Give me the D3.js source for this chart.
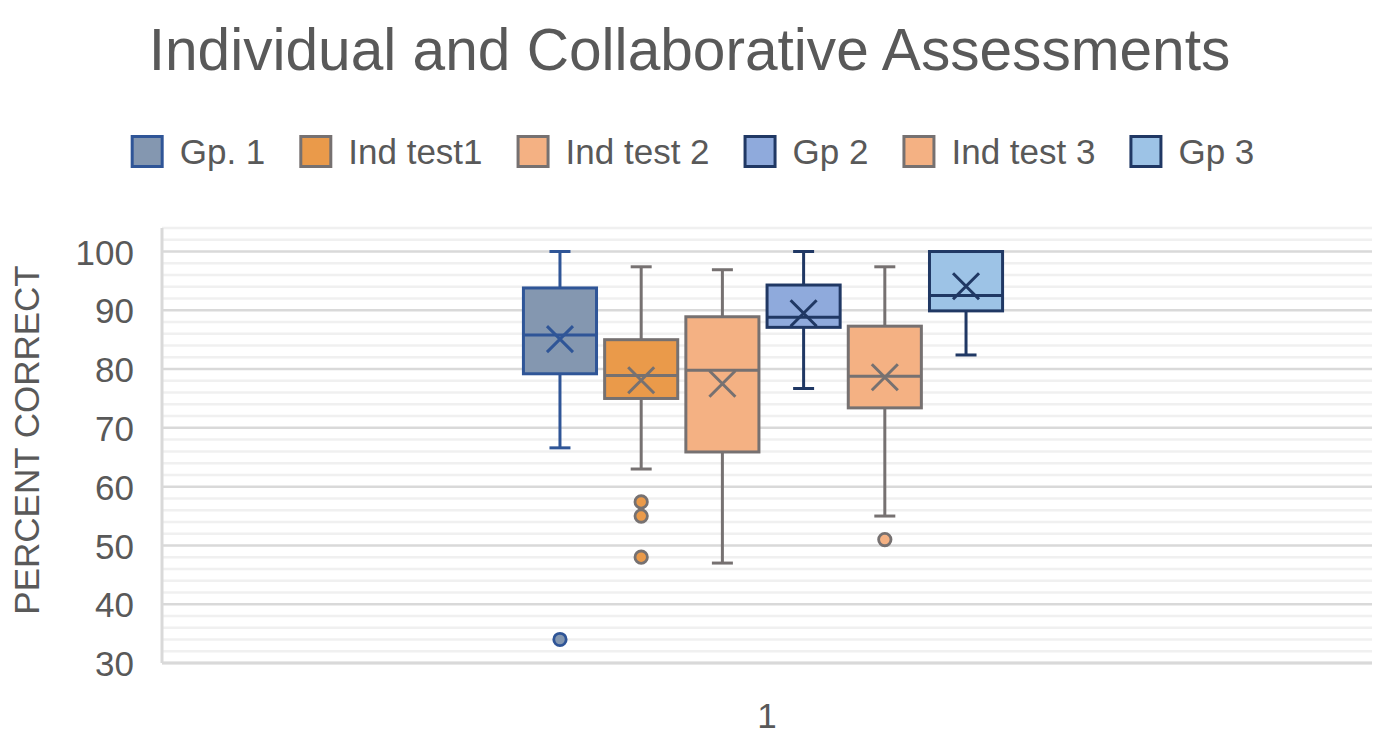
<!DOCTYPE html>
<html><head><meta charset="utf-8">
<script src="https://cdn.jsdelivr.net/npm/d3@7"></script>
<style>
html,body{margin:0;padding:0;background:#fff;}
svg{display:block;font-family:"Liberation Sans",Arial,Helvetica,sans-serif;}
</style></head>
<body>
<svg id="chart" width="1379" height="734"></svg>
<script>
// ---- data ----
const categories = ["1"];
const series = ["Gp. 1","Ind test1","Ind test 2","Gp 2","Ind test 3","Gp 3"];
const whiskerLow  = [66.6, 63.0, 47.0, 76.7, 55.0, 82.4];
const q1          = [79.2, 75.0, 65.9, 87.1, 73.4, 89.9];
const median      = [85.8, 78.9, 79.8, 88.8, 78.8, 92.5];
const q3          = [93.8, 85.0, 88.9, 94.3, 87.3, 100.0];
const whiskerHigh = [100.0, 97.4, 96.9, 100.0, 97.4, 100.0];
const mean        = [85.1, 78.1, 77.5, 89.5, 78.6, 94.1];
const outliers    = [[34.0],[57.4,55.0,48.0],[],[],[51.0],[]];
const yTicks = [30,40,50,60,70,80,90,100];
const yMinorTicks = [32,34,36,38,42,44,46,48,52,54,56,58,62,64,66,68,72,74,76,78,82,84,86,88,92,94,96,98,102,104];

// ---- styles ----
const fills   = ["#8497B0","#EA9A4A","#F4B183","#8FAADC","#F4B183","#9DC3E6"];
const strokes = ["#2F5597","#767171","#767171","#203864","#767171","#203864"];
const textColor = "#595959";

const svg = d3.select("#chart");
const W = 1379, H = 734;
const plot = {left:162, right:1372, top:228, bottom:663};

const y = d3.scaleLinear().domain([30,104]).range([plot.bottom, plot.top]);
const x0 = d3.scaleBand().domain(categories).range([plot.left, plot.right]);
const catCenter = x0(categories[0]) + x0.bandwidth()/2 - 4;
const groupW = x0.bandwidth()*0.4027;
const x1 = d3.scaleBand().domain(series).range([catCenter-groupW/2, catCenter+groupW/2]).paddingInner(0.1).paddingOuter(0.05);

// title
const title = svg.append("text").attr("x", W/2).attr("y", 70).attr("text-anchor","middle")
  .attr("fill", textColor).attr("font-size", 56).text("Individual and Collaborative Assessments");
const tw = title.node().getComputedTextLength();
title.attr("font-size", 56*1082/tw);

// gridlines
svg.append("g").selectAll("line").data(yMinorTicks).join("line")
  .attr("x1", plot.left).attr("x2", plot.right)
  .attr("y1", d=>y(d)).attr("y2", d=>y(d))
  .attr("stroke","#F0F0F0").attr("stroke-width",2.5);
svg.append("g").selectAll("line").data(yTicks).join("line")
  .attr("x1", plot.left).attr("x2", plot.right)
  .attr("y1", d=>y(d)).attr("y2", d=>y(d))
  .attr("stroke","#D9D9D9").attr("stroke-width",2.5);
// axis lines
svg.append("line").attr("x1",plot.left).attr("x2",plot.left).attr("y1",plot.top).attr("y2",plot.bottom)
  .attr("stroke","#D9D9D9").attr("stroke-width",3);
svg.append("line").attr("x1",plot.left).attr("x2",plot.right).attr("y1",plot.bottom).attr("y2",plot.bottom)
  .attr("stroke","#D9D9D9").attr("stroke-width",3);

// y axis labels
const yAxis = svg.append("g").attr("transform",`translate(${plot.left-28},0)`)
  .call(d3.axisLeft(y).tickValues(yTicks).tickSize(0).tickPadding(0));
yAxis.select(".domain").remove();
yAxis.selectAll("text").attr("font-size",35).attr("fill",textColor)
  .attr("font-family","'Liberation Sans',Arial,sans-serif").attr("dy","0.36em");

// x axis label
const xAxis = svg.append("g").attr("transform",`translate(0,${plot.bottom})`)
  .call(d3.axisBottom(x0).tickSize(0).tickPadding(0));
xAxis.select(".domain").remove();
xAxis.selectAll("text").attr("font-size",35).attr("fill",textColor)
  .attr("font-family","'Liberation Sans',Arial,sans-serif").attr("dy",0).attr("y",64.5);

// y axis title
svg.append("text").attr("transform","translate(39,440) rotate(-90)").attr("text-anchor","middle")
  .attr("font-size",35).attr("fill",textColor).text("PERCENT CORRECT");

// boxes
const bw = x1.bandwidth();
const capW = 21;
const sw = 3;
const g = svg.append("g");
series.forEach((s,i)=>{
  const cx = x1(s) + bw/2;
  const c = strokes[i];
  const gg = g.append("g");
  // whiskers
  gg.append("line").attr("x1",cx).attr("x2",cx).attr("y1",y(q3[i])).attr("y2",y(whiskerHigh[i])).attr("stroke",c).attr("stroke-width",sw);
  gg.append("line").attr("x1",cx).attr("x2",cx).attr("y1",y(q1[i])).attr("y2",y(whiskerLow[i])).attr("stroke",c).attr("stroke-width",sw);
  gg.append("line").attr("x1",cx-capW/2).attr("x2",cx+capW/2).attr("y1",y(whiskerHigh[i])).attr("y2",y(whiskerHigh[i])).attr("stroke",c).attr("stroke-width",sw);
  gg.append("line").attr("x1",cx-capW/2).attr("x2",cx+capW/2).attr("y1",y(whiskerLow[i])).attr("y2",y(whiskerLow[i])).attr("stroke",c).attr("stroke-width",sw);
  // box
  gg.append("rect").attr("x",x1(s)).attr("width",bw).attr("y",y(q3[i])).attr("height",y(q1[i])-y(q3[i]))
    .attr("fill",fills[i]).attr("stroke",c).attr("stroke-width",sw);
  // median
  gg.append("line").attr("x1",x1(s)).attr("x2",x1(s)+bw).attr("y1",y(median[i])).attr("y2",y(median[i])).attr("stroke",c).attr("stroke-width",sw);
  // mean X
  const m = 13, my = y(mean[i]);
  gg.append("path").attr("d",`M${cx-m},${my-m}L${cx+m},${my+m}M${cx-m},${my+m}L${cx+m},${my-m}`)
    .attr("stroke",c).attr("stroke-width",sw).attr("fill","none");
  // outliers
  gg.selectAll("circle").data(outliers[i]).join("circle")
    .attr("cx",cx).attr("cy",d=>y(d)).attr("r",6.2)
    .attr("fill",fills[i]).attr("stroke",c).attr("stroke-width",2.8);
});

// legend
const lg = svg.append("g");
const sq = 30, gapT = 16, gapItem = 34, fs = 35, ly = 151.5;
let xpos = 0;
const items = series.map((s,i)=>{
  const it = lg.append("g");
  it.append("rect").attr("x",1.5).attr("y",ly-sq/2).attr("width",sq).attr("height",sq)
    .attr("fill",fills[i]).attr("stroke",strokes[i]).attr("stroke-width",3);
  const t = it.append("text").attr("x",sq+3+gapT).attr("y",ly).attr("dy","0.36em")
    .attr("font-size",fs).attr("fill",textColor).text(s);
  const w = sq+3+gapT+t.node().getComputedTextLength();
  it.attr("transform",`translate(${xpos},0)`);
  xpos += w + gapItem;
  return it;
});
const totalW = xpos - gapItem;
lg.attr("transform",`translate(${692.5-totalW/2},0)`);
</script>
</body></html>
